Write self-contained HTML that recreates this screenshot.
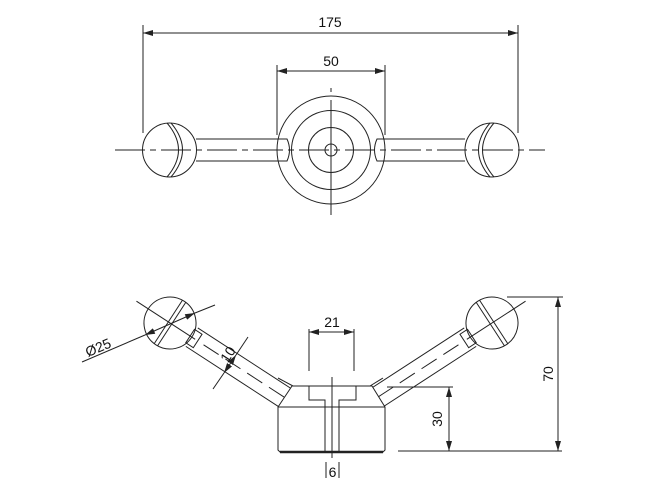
<!DOCTYPE html>
<html><head><style>body{margin:0;background:#fff}svg{display:block}text{font-family:"Liberation Sans",sans-serif;font-size:14px;fill:#111}</style></head><body>
<svg width="650" height="500" viewBox="0 0 650 500" xmlns="http://www.w3.org/2000/svg" stroke="#222" stroke-width="1" fill="none">
<defs><marker id="a" viewBox="0 0 10 6" refX="10" refY="3" markerWidth="10" markerHeight="6" orient="auto-start-reverse" markerUnits="userSpaceOnUse"><path d="M0,0L10,3L0,6z" fill="#222" stroke="none"/></marker></defs>
<line x1="143" y1="25" x2="143" y2="133"/><line x1="518" y1="25" x2="518" y2="133"/>
<line x1="143" y1="33" x2="518" y2="33" marker-start="url(#a)" marker-end="url(#a)"/>
<text x="330" y="27" text-anchor="middle" stroke="none">175</text>
<line x1="277" y1="65" x2="277" y2="135"/><line x1="385" y1="65" x2="385" y2="135"/>
<line x1="277" y1="71" x2="385" y2="71" marker-start="url(#a)" marker-end="url(#a)"/>
<text x="331" y="66" text-anchor="middle" stroke="none">50</text>
<circle cx="331" cy="150" r="54"/><circle cx="331" cy="150" r="39.5"/><circle cx="331" cy="150" r="22.5"/><circle cx="331" cy="150" r="6"/>
<path d="M196,139H287Q292,150 287,161H196"/>
<path d="M465,139H377Q372,150 377,161H465"/>
<circle cx="169.5" cy="150" r="27"/><circle cx="492" cy="150" r="27"/>
<path d="M167,123Q190,150 167,177M171,123Q194,150 171,177"/>
<path d="M494,123Q471,150 494,177M490,123Q467,150 490,177"/>
<line x1="115" y1="150" x2="545" y2="150" stroke-dasharray="30,5,6,5"/>
<line x1="331" y1="88" x2="331" y2="92"/><line x1="331" y1="100" x2="331" y2="215"/>
<g transform="rotate(33 170 323)">
<line x1="130" y1="323" x2="200" y2="323"/>
<path d="M196,312H312M196,334H312" />
<rect x="194" y="315" width="9" height="16"/>
<circle cx="170" cy="323" r="26"/>
<line x1="168" y1="297" x2="168" y2="349"/><line x1="172" y1="297" x2="172" y2="349"/>
<line x1="210" y1="323" x2="310" y2="323" stroke-dasharray="18,8"/>
</g>
<g transform="translate(662 0) scale(-1 1)">
<g transform="rotate(33 170 323)">
<line x1="130" y1="323" x2="200" y2="323"/>
<path d="M196,312H312M196,334H312" />
<rect x="194" y="315" width="9" height="16"/>
<circle cx="170" cy="323" r="26"/>
<line x1="168" y1="297" x2="168" y2="349"/><line x1="172" y1="297" x2="172" y2="349"/>
<line x1="210" y1="323" x2="310" y2="323" stroke-dasharray="18,8"/>
</g></g>
<path d="M292,386H372L385,407V450L383,452H280L278,450V407Z" fill="#fff"/>
<line x1="278" y1="407" x2="385" y2="407"/>
<line x1="280" y1="452" x2="383" y2="452" stroke-width="2.5"/>
<path d="M309,386V400H325V452M356,386V400H339V452"/>
<line x1="332" y1="377" x2="332" y2="458"/>
<line x1="278" y1="378" x2="293" y2="386"/><line x1="383" y1="378" x2="370" y2="386"/>
<line x1="309" y1="329" x2="309" y2="371"/><line x1="354" y1="329" x2="354" y2="371"/>
<line x1="309" y1="332" x2="354" y2="332" marker-start="url(#a)" marker-end="url(#a)"/>
<text x="332" y="327" text-anchor="middle" stroke="none">21</text>
<line x1="326" y1="462" x2="326" y2="478"/><line x1="339" y1="462" x2="339" y2="478"/>
<text x="332.5" y="477" text-anchor="middle" stroke="none">6</text>
<line x1="387" y1="387" x2="453" y2="387"/><line x1="398" y1="451" x2="562" y2="451"/>
<line x1="449" y1="387" x2="449" y2="451" marker-start="url(#a)" marker-end="url(#a)"/>
<text transform="translate(442 419) rotate(-90)" text-anchor="middle" stroke="none">30</text>
<line x1="507" y1="297" x2="563" y2="297"/>
<line x1="558" y1="297" x2="558" y2="451" marker-start="url(#a)" marker-end="url(#a)"/>
<text transform="translate(553 374) rotate(-90)" text-anchor="middle" stroke="none">70</text>
<line x1="82" y1="362" x2="145" y2="335" />
<line x1="145" y1="335" x2="195" y2="313" marker-start="url(#a)" marker-end="url(#a)"/>
<line x1="195" y1="313" x2="215" y2="305"/>
<text transform="translate(100 352) rotate(-23)" text-anchor="middle" stroke="none">Ø25</text>
<line x1="248" y1="337" x2="236" y2="355"/>
<line x1="236" y1="355" x2="224" y2="373" marker-start="url(#a)" marker-end="url(#a)"/>
<line x1="224" y1="373" x2="213" y2="389"/>
<text transform="translate(232 357) rotate(-57)" text-anchor="middle" stroke="none">10</text>
</svg>
</body></html>
